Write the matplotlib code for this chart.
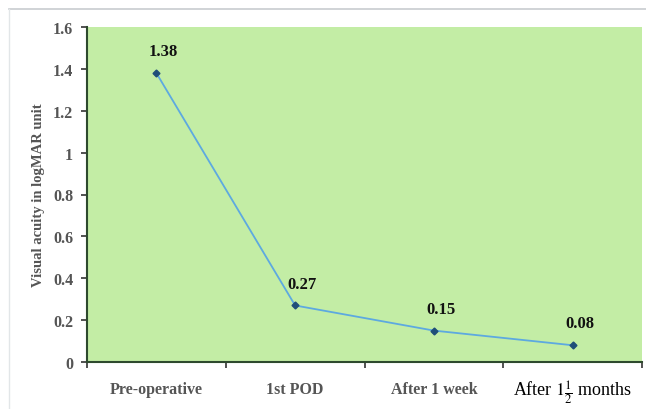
import numpy as np
import matplotlib
matplotlib.use("Agg")
import matplotlib.pyplot as plt
from matplotlib.lines import Line2D

plt.rcParams.update({"font.family": "Liberation Serif", "mathtext.fontset": "stix"})

# data
stages = ["Pre-operative", "1st POD", "After 1 week", r"After $1\frac{1}{2}$ months"]
acuity = [1.38, 0.27, 0.15, 0.08]
yticks = [0, 0.2, 0.4, 0.6, 0.8, 1, 1.2, 1.4, 1.6]

fig = plt.figure(figsize=(6.46, 4.10), dpi=100)
ax = fig.add_axes([87/646, 1 - 363/410, (642 - 87)/646, (363 - 28)/410])
ax.set_facecolor("#C3EDA5")

x = np.arange(len(stages))
ax.plot(x, acuity, color="#5DA9E0", linewidth=1.3, zorder=2)
ax.plot(x, acuity, linestyle="none", marker="D", markersize=3.5, color="#1F4E79", zorder=3)
for xi, v in zip(x, acuity):
    ax.annotate(f"{v:.2f}", (xi, v), xytext=(5, 10), textcoords="offset points",
                ha="center", va="bottom", fontsize=12, fontweight="bold", color="#111")

ax.set_xlim(-0.5, len(stages) - 0.5)
ax.set_ylim(0, 1.6)
ax.set_yticks(yticks)
ax.set_yticklabels([f"{t:g}" for t in yticks], fontsize=11.5, fontweight="bold", color="#555")
ax.set_xticks(x)
ax.set_xticklabels(stages[:3] + [""], fontsize=11.5, fontweight="bold", color="#555")
ax.text(3, -0.14, stages[3], ha="center", va="center", fontsize=13, color="black")
ax.tick_params(axis="x", length=0, pad=14)
ax.set_xticks(np.arange(-0.5, len(stages)), minor=True)
ax.tick_params(axis="x", which="minor", length=4, width=1.2, color="#333", direction="out")
ax.tick_params(axis="y", length=4, width=1.2, color="#333", direction="out", pad=6)
ax.set_ylabel("Visual acuity in logMAR unit", fontsize=10.5, fontweight="bold", color="#555", labelpad=6)

for side in ["top", "right"]:
    ax.spines[side].set_visible(False)
for side in ["left", "bottom"]:
    ax.spines[side].set_color("#2E4A2E")
    ax.spines[side].set_linewidth(1.5)

# outer frame lines (top and left)
fig.add_artist(Line2D([9/646, 1], [1 - 10/410, 1 - 10/410], color="#C8CCD0", linewidth=1.2))
fig.add_artist(Line2D([9/646, 9/646], [0, 1 - 10/410], color="#E2E6E8", linewidth=1.0))

fig.savefig("out.png", dpi=100, facecolor="white")
